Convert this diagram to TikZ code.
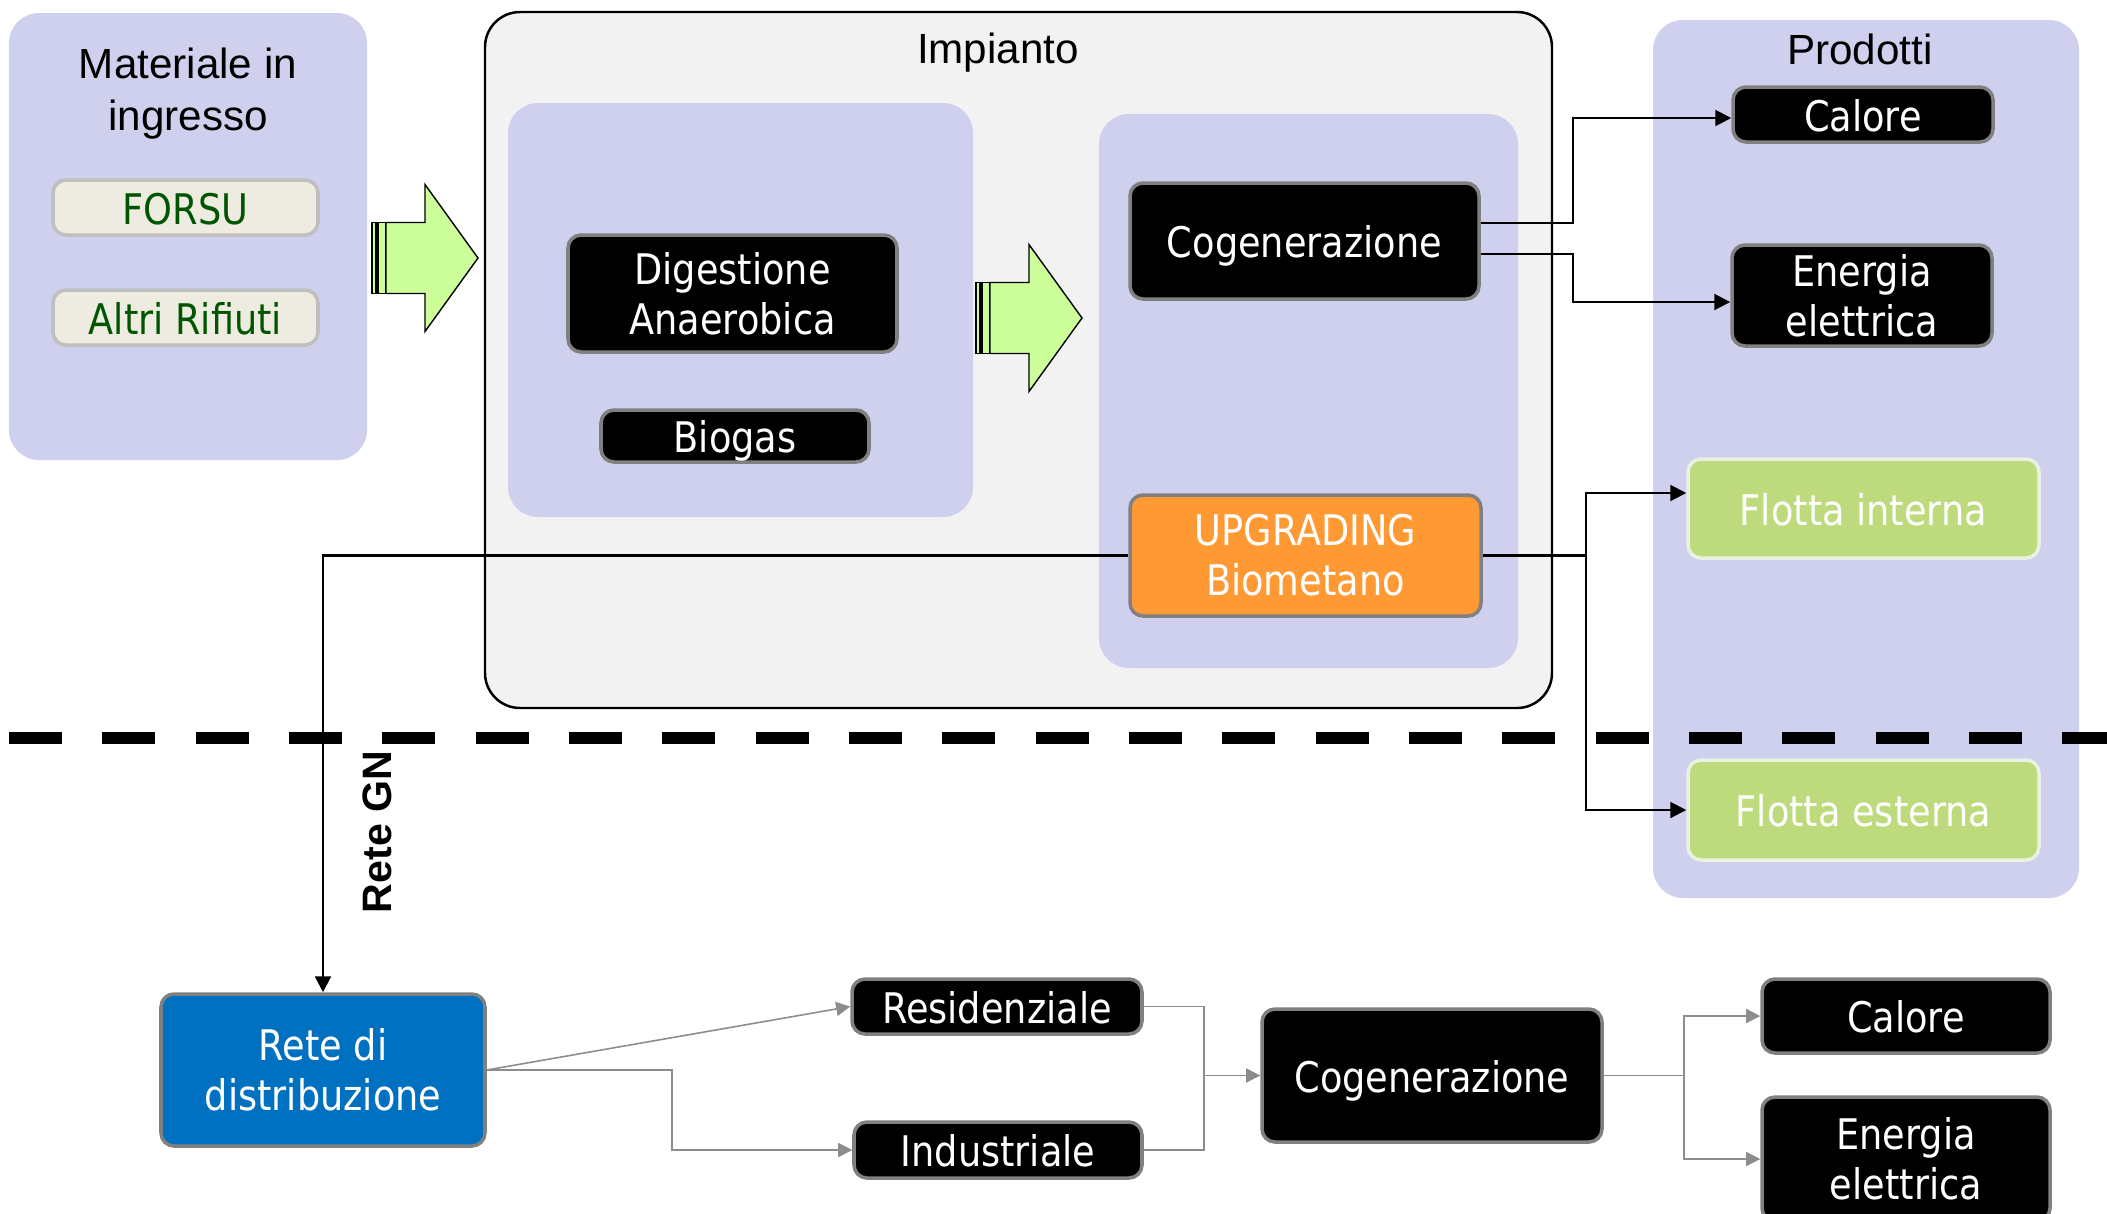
\documentclass[tikz,border=0pt]{standalone}
\usepackage{fontspec}
\setmainfont{Liberation Sans}
\newfontfamily\boxfont[FakeStretch=0.87]{DejaVu Sans}
\usetikzlibrary{positioning,arrows.meta}

\definecolor{lav}{RGB}{207,207,238}
\definecolor{plantgray}{RGB}{242,242,242}
\definecolor{cream}{RGB}{238,236,225}
\definecolor{creamedge}{RGB}{191,191,191}
\definecolor{wastegreen}{RGB}{0,85,0}
\definecolor{arrowgreen}{RGB}{204,255,153}
\definecolor{upgorange}{RGB}{255,153,51}
\definecolor{fleetgreen}{RGB}{189,219,125}
\definecolor{fleetedge}{RGB}{232,242,226}
\definecolor{gridblue}{RGB}{0,112,192}
\definecolor{edgegray}{RGB}{128,128,128}
\definecolor{linkgray}{RGB}{140,140,140}

\newcommand{\boxtext}{\boxfont\fontsize{12}{14.2}\selectfont}
\newcommand{\titletext}{\fontsize{12}{14.8}\selectfont}

\begin{document}
\begin{tikzpicture}[x=0.1mm,y=-0.1mm,>={Triangle[length=4.5pt,width=4.5pt]}]
\tikzstyle{area}=[fill=lav,rounded corners=3mm,inner sep=0]
\tikzstyle{blk}=[draw=edgegray,line width=1pt,fill=black,text=white,rounded corners=1.3mm,inner sep=0,align=center,font=\boxtext]
\tikzstyle{single}=[text height=9.6pt,text depth=0pt]
\tikzstyle{waste}=[blk,single,fill=cream,draw=creamedge,text=wastegreen]
\tikzstyle{fleet}=[blk,single,fill=fleetgreen,draw=fleetedge]
\tikzstyle{title}=[align=center,font=\titletext]
\tikzstyle{link}=[->,line width=0.6pt]
\tikzstyle{glink}=[->,draw=linkgray,line width=0.45pt,>={Triangle[length=4pt,width=4pt]}]
\tikzstyle{bigarrow}=[fill=arrowgreen,draw=black,line width=0.4pt]
\useasboundingbox (0,0) rectangle (2107,1213);

% materiale in ingresso
\node[area,minimum width=35.8mm,minimum height=44.7mm] (mat) at (188,236.5) {};
\node[title] (matT) at (188,94) {Materiale in\\ingresso};
\node[waste,minimum width=26.5mm,minimum height=5.5mm] (forsu) at (185.5,207.5) {FORSU};
\node[waste,minimum width=26.5mm,minimum height=5.5mm] (altri) at (185.5,317.5) {Altri Rifiuti};

% impianto
\node[fill=plantgray,draw=black,line width=0.7pt,rounded corners=3.5mm,minimum width=106.7mm,minimum height=69.6mm] (plant) at (1018.5,360) {};
\node[title] (plantT) at (998,53) {Impianto};
\node[area,minimum width=46.5mm,minimum height=41.4mm] (digA) at (740.5,310) {};
\node[blk,minimum width=32.9mm,minimum height=11.7mm] (dig) at (732.5,293.5) {Digestione\\Anaerobica};
\node[blk,single,minimum width=26.8mm,minimum height=5.2mm] (biogas) at (735,436) {Biogas};
\node[area,minimum width=41.9mm,minimum height=55.4mm] (useA) at (1308.5,391) {};
\node[blk,single,minimum width=34.9mm,minimum height=11.6mm] (cogen) at (1304.5,241) {Cogenerazione};
\node[blk,fill=upgorange,minimum width=35.1mm,minimum height=12.1mm] (upgr) at (1305.5,555.5) {UPGRADING\\Biometano};

% big arrows
\foreach \ax/\ay in {372/258,976/318}{
  \draw[bigarrow,shift={(\ax,\ay)}] (0,-35.5) rectangle (4,35.5);
  \draw[bigarrow,shift={(\ax,\ay)}] (6,-35.5) rectangle (14,35.5);
  \draw[bigarrow,shift={(\ax,\ay)}] (14,-35.5) -- (53,-35.5) -- (53,-73.5) -- (106,0)
    -- (53,73.5) -- (53,35.5) -- (14,35.5) -- cycle;
}

% prodotti
\node[area,minimum width=42.6mm,minimum height=87.8mm] (prod) at (1866,459) {};
\node[title] (prodT) at (1860,49) {Prodotti};
\node[blk,single,minimum width=26mm,minimum height=5.5mm] (calore) at (1863,114.5) {Calore};
\node[blk,minimum width=26mm,minimum height=10.1mm] (energia) at (1862,295.5) {Energia\\elettrica};
\node[fleet,minimum width=35.1mm,minimum height=9.9mm] (flotI) at (1863.5,508.5) {Flotta interna};
\node[fleet,minimum width=35.1mm,minimum height=10mm] (flotE) at (1863.5,810) {Flotta esterna};

\draw[link] ([yshift=1.8mm]cogen.east) -- ++(9.2mm,0) |- ([yshift=-0.35mm]calore.west);
\draw[link] ([yshift=-1.3mm]cogen.east) -- ++(9.2mm,0) |- ([yshift=-0.65mm]energia.west);
\draw[link] (upgr.east) -- ++(10.3mm,0) |- ([yshift=1.55mm]flotI.west);
\draw[link] (upgr.east) -- ++(10.3mm,0) |- (flotE.west);

% confine impianto
\draw[line width=1.25mm,dash pattern=on 5.3mm off 4.033mm] (9,738) -- (2107,738);

% rete
\node[blk,fill=gridblue,minimum width=32.4mm,minimum height=15.2mm] (rete) at (323,1070) {Rete di\\distribuzione};
\draw[link] (upgr.west) -| (rete.north);
\node[rotate=90,font=\bfseries\fontsize{11.7}{14}\selectfont] (gn) at (377,832) {Rete GN};

\node[blk,single,minimum width=29mm,minimum height=5.5mm] (resid) at (997,1006.5) {Residenziale};
\node[blk,single,minimum width=28.8mm,minimum height=5.6mm] (indus) at (998,1150) {Industriale};
\node[blk,single,minimum width=34mm,minimum height=13.3mm] (cogen2) at (1432,1075.5) {Cogenerazione};
\node[blk,single,minimum width=28.8mm,minimum height=7.4mm] (calore2) at (1906,1016) {Calore};
\node[blk,minimum width=28.8mm,minimum height=12.4mm] (energia2) at (1906,1159) {Energia\\elettrica};
\coordinate (jn) at (1204,1075.5);

\draw[glink] (rete.east) -- (resid.west);
\draw[glink] (rete.east) -- ++(18.5mm,0) |- (indus.west);
\draw[glink,-] (resid.east) -| (jn);
\draw[glink,-] (indus.east) -| (jn);
\draw[glink] (jn) -- (cogen2.west);
\draw[glink] (cogen2.east) -- ++(8mm,0) |- (calore2.west);
\draw[glink] (cogen2.east) -- ++(8mm,0) |- (energia2.west);
\end{tikzpicture}
\end{document}
